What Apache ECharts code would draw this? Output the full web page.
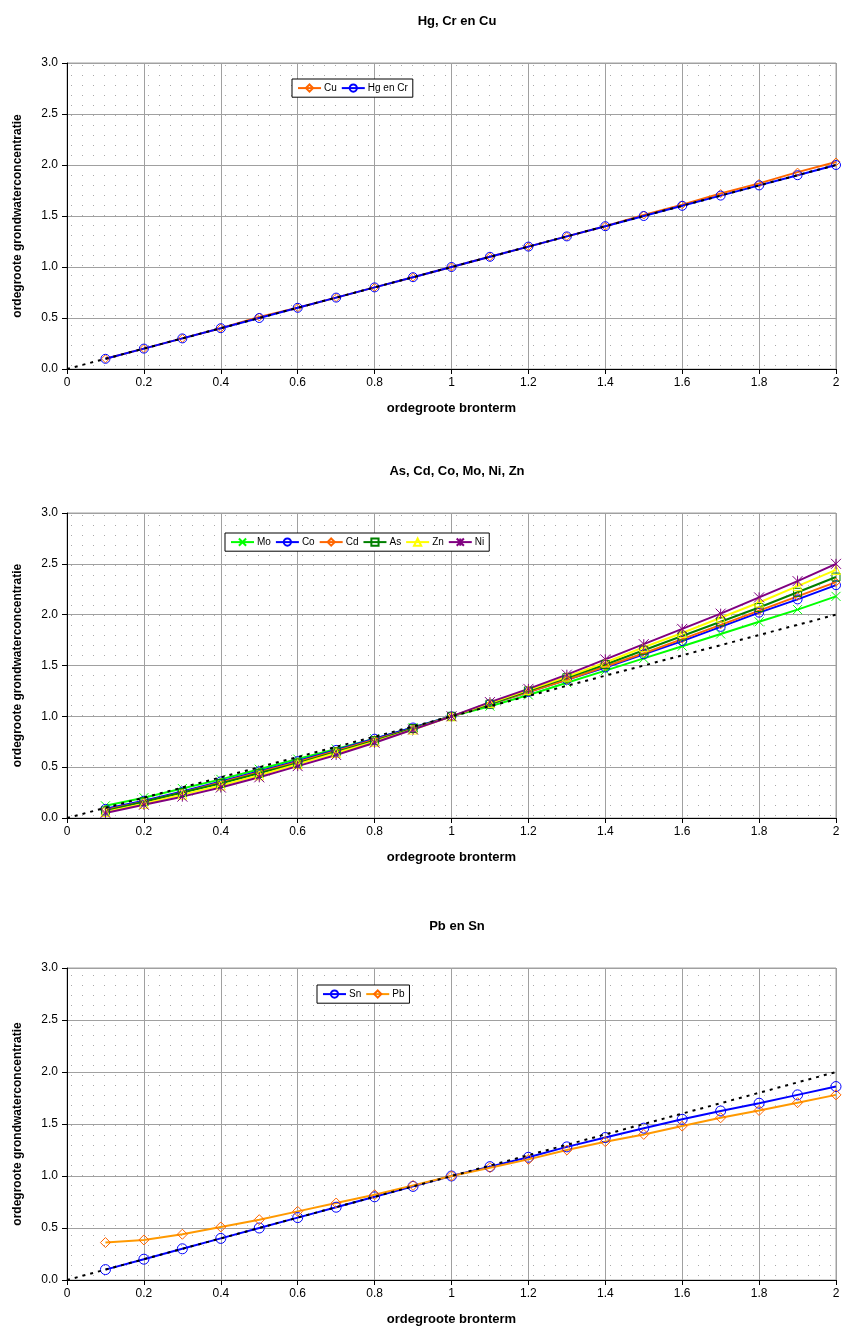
<!DOCTYPE html>
<html><head><meta charset="utf-8">
<script src="https://cdn.jsdelivr.net/npm/echarts@6/dist/echarts.min.js"></script>
<style>html,body{margin:0;padding:0;background:#fff}#c{width:843px;height:1342px}</style>
</head><body><div id="c"></div>
<script>
// ---------- data ----------
const xs = [0.1,0.2,0.3,0.4,0.5,0.6,0.7,0.8,0.9,1.0,1.1,1.2,1.3,1.4,1.5,1.6,1.7,1.8,1.9,2.0];
const refLine = [[0,0],[2,2]];
const titles = ['Hg, Cr en Cu','As, Cd, Co, Mo, Ni, Zn','Pb en Sn'];
const xAxisName = 'ordegroote bronterm';
const yAxisName = 'ordegroote grondwaterconcentratie';

// chart 1
const Cu     = [0.10,0.20,0.30,0.40,0.51,0.60,0.70,0.80,0.90,1.00,1.10,1.20,1.30,1.40,1.51,1.61,1.72,1.82,1.93,2.03];
const HgEnCr = [0.10,0.20,0.30,0.40,0.50,0.60,0.70,0.80,0.90,1.00,1.10,1.20,1.30,1.40,1.50,1.60,1.70,1.80,1.90,2.00];
// chart 2
const Mo = [0.12,0.20,0.29,0.38,0.48,0.58,0.68,0.78,0.89,1.00,1.10,1.21,1.33,1.45,1.57,1.69,1.81,1.93,2.05,2.18];
const Co = [0.09,0.17,0.26,0.36,0.46,0.56,0.67,0.78,0.89,1.00,1.12,1.24,1.36,1.48,1.61,1.74,1.88,2.02,2.15,2.29];
const Cd = [0.08,0.16,0.25,0.35,0.45,0.55,0.66,0.77,0.88,1.00,1.12,1.24,1.36,1.49,1.62,1.76,1.90,2.04,2.18,2.32];
const As = [0.07,0.16,0.25,0.34,0.44,0.54,0.65,0.76,0.88,1.00,1.12,1.25,1.38,1.51,1.65,1.79,1.93,2.07,2.22,2.37];
const Zn = [0.06,0.14,0.23,0.32,0.42,0.53,0.64,0.75,0.87,1.00,1.13,1.26,1.39,1.53,1.68,1.82,1.97,2.12,2.28,2.44];
const Ni = [0.05,0.13,0.21,0.30,0.40,0.51,0.62,0.74,0.87,1.00,1.14,1.27,1.41,1.56,1.71,1.86,2.01,2.17,2.33,2.50];
// chart 3
const Sn = [0.10,0.20,0.30,0.40,0.50,0.60,0.70,0.80,0.90,1.00,1.09,1.18,1.28,1.37,1.46,1.545,1.625,1.70,1.78,1.86];
const Pb = [0.36,0.385,0.44,0.51,0.58,0.66,0.74,0.82,0.91,1.00,1.08,1.16,1.25,1.33,1.40,1.48,1.56,1.63,1.705,1.78];

// ---------- styling ----------
const FONT = 'Liberation Sans, Arial, sans-serif';
const pat = document.createElement('canvas');
pat.width = 11; pat.height = 10;
(function(){const g=pat.getContext('2d');g.fillStyle='#fff';g.fillRect(0,0,11,10);g.fillStyle='#aaaaaa';g.fillRect(5,5,1,1);})();

const grids = [
  {left:67, right:7, top:63, height:306},
  {left:67, right:7, top:513, height:305},
  {left:67, right:7, top:968, height:312}
];
const SYM_X = 'path://M0,0L10,10M10,0L0,10';
const SYM_STAR = 'path://M0,0L10,10M10,0L0,10M5,0L5,10';

function mk(name, ys, gi, color, symbol, size, markerColor){
  const mc = markerColor || color;
  return {
    name, type:'line', xAxisIndex:gi, yAxisIndex:gi,
    data: xs.map((x,i)=>[x,ys[i]]),
    symbol, symbolSize:size, showSymbol:true,
    lineStyle:{color, width:2},
    itemStyle:{color:'none', borderColor:mc, borderWidth:1},
    emphasis:{disabled:true}, z:3
  };
}
function ref(gi){
  return {name:'ref'+gi, type:'line', xAxisIndex:gi, yAxisIndex:gi, data:refLine, symbol:'none',
    lineStyle:{color:'#000', width:2, type:[3,5]}, z:4, emphasis:{disabled:true}};
}

const series = [
  ref(0),
  mk('Cu', Cu, 0, '#ff6600', 'diamond', 8),
  mk('Hg en Cr', HgEnCr, 0, '#0000ff', 'circle', 9),
  ref(1),
  mk('Mo', Mo, 1, '#00ff00', SYM_X, 9),
  mk('Co', Co, 1, '#0000ff', 'circle', 9),
  mk('Cd', Cd, 1, '#ff6600', 'diamond', 8),
  mk('As', As, 1, '#008000', 'rect', 8),
  mk('Zn', Zn, 1, '#ffff00', 'triangle', 9),
  mk('Ni', Ni, 1, '#800080', SYM_STAR, 10),
  ref(2),
  mk('Sn', Sn, 2, '#0000ff', 'circle', 10),
  mk('Pb', Pb, 2, '#ff9900', 'diamond', 10, '#ff6600')
];

const xAxis = grids.map((g,i)=>({
  type:'value', gridIndex:i, min:0, max:2, interval:0.2,
  name:xAxisName, nameLocation:'middle', nameGap:33,
  nameTextStyle:{fontFamily:FONT, fontSize:13, fontWeight:'bold', color:'#000'},
  axisLine:{onZero:false, lineStyle:{color:'#000', width:1}},
  axisTick:{show:true, length:5, lineStyle:{color:'#000'}},
  axisLabel:{fontFamily:FONT, fontSize:12, color:'#000', margin:8,
    formatter:v=>{const r=Math.round(v*10)/10; return (r===0||r===1||r===2)?String(r):r.toFixed(1);}},
  splitLine:{show:true, lineStyle:{color:'#a0a0a0', width:1}}
}));
const yAxis = grids.map((g,i)=>({
  type:'value', gridIndex:i, min:0, max:3, interval:0.5,
  name:yAxisName, nameLocation:'middle', nameGap:43,
  nameTextStyle:{fontFamily:FONT, fontSize:12, fontWeight:'bold', color:'#000'},
  axisLine:{show:true, onZero:false, lineStyle:{color:'#000', width:1}},
  axisTick:{show:true, length:5, lineStyle:{color:'#000'}},
  axisLabel:{fontFamily:FONT, fontSize:12, color:'#000', margin:9, formatter:v=>v.toFixed(1)},
  splitLine:{show:true, lineStyle:{color:'#a0a0a0', width:1}}
}));

const titleTops = [10, 460, 915];
const legendPos = [
  {left:292, top:79, data:['Cu','Hg en Cr']},
  {left:225, top:533, data:['Mo','Co','Cd','As','Zn','Ni']},
  {left:317, top:985, data:['Sn','Pb']}
];

const chart = echarts.init(document.getElementById('c'), null, {renderer:'canvas'});
chart.setOption({
  animation:false,
  backgroundColor:'#fff',
  title: titles.map((t,i)=>({text:t, left:452, top:titleTops[i], textAlign:'center',
    textStyle:{fontFamily:FONT, fontSize:13, fontWeight:'bold', color:'#000'}})),
  legend: legendPos.map(l=>({
    left:l.left, top:l.top, data:l.data, orient:'horizontal',
    backgroundColor:'#fff', borderColor:'#000', borderWidth:1, borderRadius:0,
    padding:[3,5,3,5], itemGap:4, itemWidth:23, itemHeight:9,
    textStyle:{fontFamily:FONT, fontSize:10, color:'#000', padding:[0,0,0,-2]},
    selectedMode:false
  })),
  grid: grids.map(g=>Object.assign({show:true, backgroundColor:{image:pat, repeat:'repeat'},
    borderColor:'#a0a0a0', borderWidth:1}, g)),
  xAxis, yAxis, series
});
</script></body></html>
